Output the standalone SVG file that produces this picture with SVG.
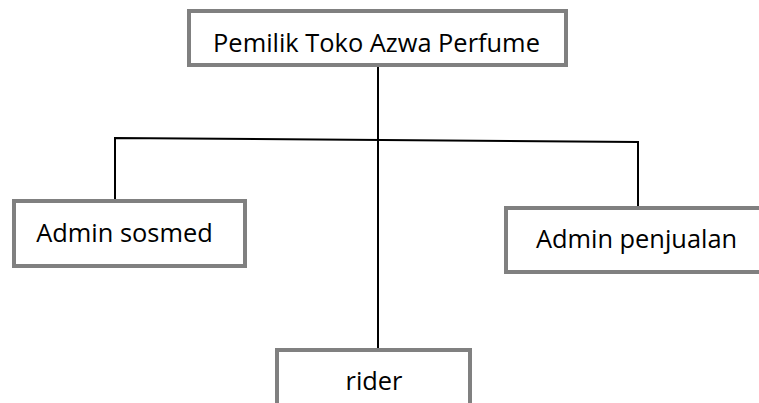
<svg xmlns="http://www.w3.org/2000/svg" width="759" height="403" viewBox="0 0 759 403">
<style>
.box{fill:#fff;stroke:#808080;stroke-width:4}
.lbl{font-family:"Open Sans","Noto Sans",sans-serif;font-size:25.4px;fill:#000;text-anchor:middle}
.con{fill:none;stroke:#000;stroke-width:2}
</style>
<rect width="759" height="403" fill="#fff"/>
<g id="connectors">
<line class="con" x1="378" y1="67" x2="378" y2="348"/>
<polyline class="con" points="115,199 115,138 638,142 638,206"/>
</g>
<g id="pemilik">
<rect class="box" x="189" y="11" width="377" height="54"/>
<text class="lbl" x="376.5" y="52">Pemilik Toko Azwa Perfume</text>
</g>
<g id="admin-sosmed">
<rect class="box" x="14" y="201" width="231" height="65"/>
<text class="lbl" x="124.5" y="242">Admin sosmed</text>
</g>
<g id="admin-penjualan">
<rect class="box" x="506" y="208" width="270" height="64"/>
<text class="lbl" x="636.5" y="248">Admin penjualan</text>
</g>
<g id="rider">
<rect class="box" x="277" y="350" width="193" height="70"/>
<text class="lbl" x="374" y="390">rider</text>
</g>
</svg>
